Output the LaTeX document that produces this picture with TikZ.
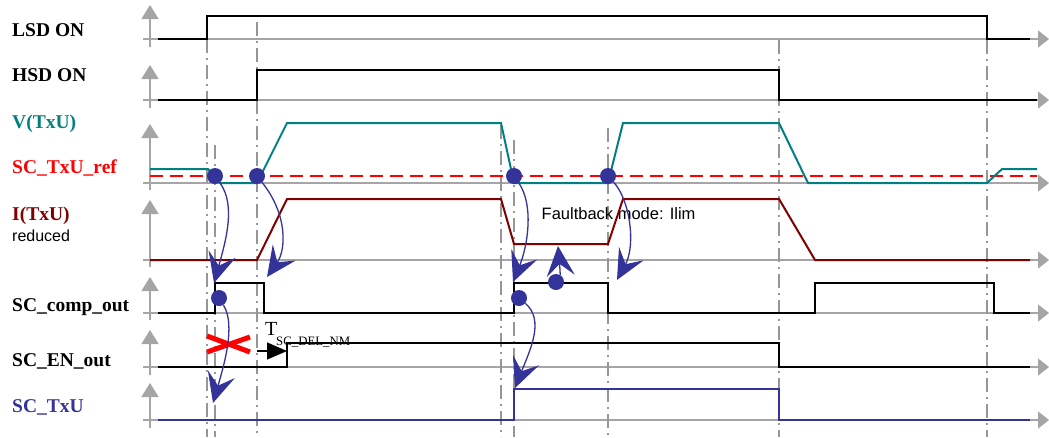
\documentclass[tikz,border=0pt]{standalone}
\usepackage{fontspec}
\setmainfont{Liberation Serif}
\setsansfont{Liberation Sans}
\usetikzlibrary{arrows.meta}
\definecolor{axgray}{RGB}{165,165,165}
\definecolor{guidegray}{RGB}{150,150,150}
\definecolor{vteal}{RGB}{0,128,128}
\definecolor{idark}{RGB}{128,0,0}
\definecolor{dotblue}{RGB}{51,51,153}
\begin{document}
\begin{tikzpicture}[x=1pt,y=-1pt,
  axisline/.style={draw=axgray, line width=1.5pt},
  upaxis/.style={axisline, -{Triangle[length=14pt,width=17pt]}},
  rightaxis/.style={axisline, -{Triangle[length=11pt,width=17pt]}},
  guide/.style={draw=guidegray, line width=1.3pt, dash pattern=on 14pt off 5pt on 2pt off 5pt},
  sig/.style={line width=2pt, line join=miter},
  lbl/.style={anchor=base west, inner sep=0pt, font=\fontsize{19.5}{20}\selectfont\bfseries},
  sanslbl/.style={anchor=base west, inner sep=0pt, font=\sffamily\fontsize{16}{17}\selectfont},
  dotnode/.style={circle, fill=dotblue, minimum size=16pt, inner sep=0pt},
  causal/.style={draw=dotblue, line width=1.3pt, -{Stealth[length=30pt,width=28pt,inset=12pt,fill=dotblue]}},
  cross/.style={draw=red, line width=5pt}
]
\useasboundingbox (0,0) rectangle (1049,437);

% ---- axes ----
\foreach \yb/\yt/\ybot in {39/5/47, 100/65/108, 183/124/190, 260/200/267, 313/277/320, 367/330/375, 420/383/428}{
  \draw[upaxis] (150,\ybot) -- (150,\yt);
  \draw[rightaxis] (143,\yb) -- (1049,\yb);
}

% ---- vertical guides ----
\draw[guide] (207,39) -- (207,437);
\draw[guide] (215,145) -- (215,437);
\draw[guide] (257,22) -- (257,437);
\draw[guide] (501,125) -- (501,437);
\draw[guide] (514,140) -- (514,437);
\draw[guide] (608,128) -- (608,437);
\draw[guide] (779,40) -- (779,437);
\draw[guide] (987,40) -- (987,437);

% ---- labels ----
\node[lbl] (lLSD) at (12,36.5) {LSD ON};
\node[lbl] (lHSD) at (12,81.5) {HSD ON};
\node[lbl, text=vteal] (lV) at (12,128) {V(TxU)};
\node[lbl, text=red] (lref) at (12,173) {SC\_TxU\_ref};
\node[lbl, text=idark] (lI) at (12,220) {I(TxU)};
\node[sanslbl] (lred) at (12,241) {reduced};
\node[lbl] (lcomp) at (12,311) {SC\_comp\_out};
\node[lbl] (lEN) at (12,366) {SC\_EN\_out};
\node[lbl, text=dotblue] (lTxU) at (12,412.5) {SC\_TxU};
\node[sanslbl, font=\sffamily\fontsize{16.5}{17}\selectfont] (lfault) at (541.5,219.3) {Faultback mode: Ilim};

% ---- signals ----
\draw[sig] (158,39) -- (207,39) -- (207,16) -- (987,16) -- (987,39) -- (1030,39);
\draw[sig] (158,100) -- (257,100) -- (257,70) -- (779,70) -- (779,100) -- (1037,100);
\draw[red, line width=1.8pt, dash pattern=on 13pt off 7pt] (150,176) -- (1037,176);
\draw[sig, vteal] (150,169) -- (208,169) -- (220,183) -- (257,183) -- (287,123) -- (501,123)
  -- (514,183) -- (608,183) -- (623,123) -- (779,123) -- (808,183) -- (987,183) -- (1002,169) -- (1037,169);
\draw[sig, idark] (150,260) -- (257,260) -- (287,199) -- (501,199) -- (514,244) -- (608,244)
  -- (623,199) -- (779,199) -- (815,260) -- (1030,260);
\draw[sig] (158,313) -- (215,313) -- (215,283) -- (264,283) -- (264,313) -- (514,313) -- (514,283)
  -- (608,283) -- (608,313) -- (815,313) -- (815,283) -- (994,283) -- (994,313) -- (1030,313);
\draw[sig] (158,367) -- (287,367) -- (287,343) -- (779,343) -- (779,367) -- (1030,367);
\draw[sig, dotblue] (158,420) -- (514,420) -- (514,389) -- (779,389) -- (779,420) -- (1030,420);

% ---- delay annotation ----
\node[anchor=base west, inner sep=0pt, font=\fontsize{20}{21}\selectfont] (tT) at (265,335) {T};
\node[anchor=base west, inner sep=0pt, font=\fontsize{12.8}{13}\selectfont] (tsub) at (276,345.5) {SC\_DEL\_NM};
\coordinate (dA) at (257,351);
\coordinate (dB) at (287,351);
\draw[line width=1.3pt, -{Triangle[length=20pt,width=17pt]}] (dA) -- (dB);

% ---- red cross ----
\coordinate (x1) at (207,336);
\coordinate (x2) at (250,352);
\coordinate (x3) at (207,352);
\coordinate (x4) at (250,337);
\draw[cross] (x1) -- (x2);
\draw[cross] (x3) -- (x4);

% ---- dots and causal arrows ----
\node[dotnode] (d1) at (215,176) {};
\node[dotnode] (d2) at (257,176) {};
\node[dotnode] (d3) at (514,176) {};
\node[dotnode] (d4) at (608,176) {};
\node[dotnode] (d5) at (556,282) {};
\node[dotnode] (d6) at (219,298) {};
\node[dotnode] (d7) at (519,298) {};
\coordinate (t1) at (214,283);
\coordinate (t2) at (267,277);
\coordinate (t3) at (513,282);
\coordinate (t4) at (617,280);
\coordinate (t5) at (558,246);
\coordinate (t6) at (213,403);
\coordinate (t7) at (515,388);
\draw[causal] (d1) .. controls (236,205) and (226,240) .. (t1);
\draw[causal] (d2) .. controls (288,215) and (286,250) .. (t2);
\draw[causal] (d3) .. controls (534,205) and (528,245) .. (t3);
\draw[causal] (d4) .. controls (630,200) and (636,245) .. (t4);
\draw[causal] (d5) .. controls (560,276) and (560,268) .. (t5);
\draw[causal] (d6) .. controls (236,325) and (224,365) .. (t6);
\draw[causal] (d7) .. controls (545,320) and (530,350) .. (t7);
\end{tikzpicture}
\end{document}
